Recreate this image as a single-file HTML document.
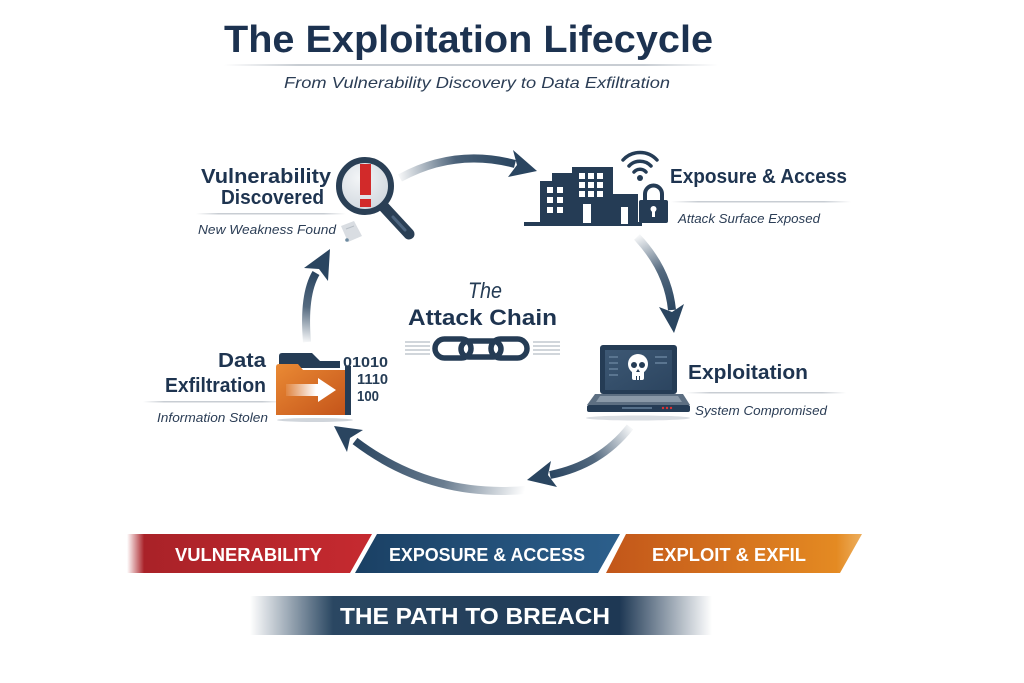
<!DOCTYPE html>
<html><head><meta charset="utf-8"><style>
html,body{margin:0;padding:0;background:#fff;}
svg{display:block;}
text{font-family:"Liberation Sans",sans-serif;}
</style></head><body>
<svg width="1024" height="683" viewBox="0 0 1024 683" xmlns="http://www.w3.org/2000/svg">
<defs>
<linearGradient id="uline" x1="0" x2="1" y1="0" y2="0">
<stop offset="0" stop-color="#c8cdd3" stop-opacity="0"/><stop offset="0.15" stop-color="#c8cdd3"/><stop offset="0.85" stop-color="#c8cdd3"/><stop offset="1" stop-color="#c8cdd3" stop-opacity="0"/>
</linearGradient>
<linearGradient id="a1" gradientUnits="userSpaceOnUse" x1="400" y1="178" x2="515" y2="164"><stop offset="0" stop-color="#2a4560" stop-opacity="0.05"/><stop offset="0.5" stop-color="#2a4560" stop-opacity="0.85"/><stop offset="1" stop-color="#2a4560"/></linearGradient>
<linearGradient id="a2" gradientUnits="userSpaceOnUse" x1="637" y1="237" x2="672" y2="310"><stop offset="0" stop-color="#2a4560" stop-opacity="0.05"/><stop offset="0.5" stop-color="#2a4560" stop-opacity="0.8"/><stop offset="1" stop-color="#2a4560"/></linearGradient>
<linearGradient id="a3" gradientUnits="userSpaceOnUse" x1="630" y1="427" x2="550" y2="475"><stop offset="0" stop-color="#2a4560" stop-opacity="0.05"/><stop offset="0.5" stop-color="#2a4560" stop-opacity="0.8"/><stop offset="1" stop-color="#2a4560"/></linearGradient>
<linearGradient id="a4" gradientUnits="userSpaceOnUse" x1="525" y1="490" x2="355" y2="441"><stop offset="0" stop-color="#2a4560" stop-opacity="0"/><stop offset="0.45" stop-color="#2a4560" stop-opacity="0.7"/><stop offset="1" stop-color="#2a4560"/></linearGradient>
<linearGradient id="a5" gradientUnits="userSpaceOnUse" x1="307" y1="342" x2="316" y2="273"><stop offset="0" stop-color="#2a4560" stop-opacity="0.05"/><stop offset="0.5" stop-color="#2a4560" stop-opacity="0.8"/><stop offset="1" stop-color="#2a4560"/></linearGradient>
<radialGradient id="lens" cx="0.4" cy="0.35" r="0.7"><stop offset="0" stop-color="#f3f5f7"/><stop offset="1" stop-color="#cfd6dd"/></radialGradient>
<linearGradient id="org" x1="0" x2="1" y1="0" y2="1"><stop offset="0" stop-color="#ea8a34"/><stop offset="1" stop-color="#c4541a"/></linearGradient>
<linearGradient id="arw" x1="0" x2="1"><stop offset="0" stop-color="#fff" stop-opacity="0.1"/><stop offset="0.6" stop-color="#fff"/><stop offset="1" stop-color="#fff"/></linearGradient>
<linearGradient id="red" gradientUnits="userSpaceOnUse" x1="127" x2="372" y1="0" y2="0"><stop offset="0" stop-color="#b0262c" stop-opacity="0"/><stop offset="0.07" stop-color="#a92228"/><stop offset="1" stop-color="#c62a30"/></linearGradient>
<linearGradient id="blue" gradientUnits="userSpaceOnUse" x1="355" x2="620" y1="0" y2="0"><stop offset="0" stop-color="#1a4064"/><stop offset="1" stop-color="#2c5f8c"/></linearGradient>
<linearGradient id="orange" gradientUnits="userSpaceOnUse" x1="606" x2="862" y1="0" y2="0"><stop offset="0" stop-color="#c2561a"/><stop offset="0.9" stop-color="#e48a22"/><stop offset="1" stop-color="#e89a35" stop-opacity="0.8"/></linearGradient>
<linearGradient id="path" gradientUnits="userSpaceOnUse" x1="250" x2="712" y1="0" y2="0"><stop offset="0" stop-color="#2a4560" stop-opacity="0"/><stop offset="0.18" stop-color="#2a4762"/><stop offset="0.8" stop-color="#1e3854"/><stop offset="1" stop-color="#1e3854" stop-opacity="0"/></linearGradient>
<linearGradient id="scr" x1="0" x2="1" y1="0" y2="1"><stop offset="0" stop-color="#3d5874"/><stop offset="1" stop-color="#2c4560"/></linearGradient>
</defs>

<!-- Title -->
<text x="224" y="52" font-size="38" font-weight="bold" fill="#1c3250" textLength="489" lengthAdjust="spacingAndGlyphs">The Exploitation Lifecycle</text>
<rect x="224" y="64" width="494" height="2" fill="url(#uline)"/>
<text x="284" y="88" font-size="16" font-style="italic" fill="#2b3d55" textLength="386" lengthAdjust="spacingAndGlyphs">From Vulnerability Discovery to Data Exfiltration</text>

<!-- Arrows -->
<path d="M400,178 Q455,148 515,164" fill="none" stroke="url(#a1)" stroke-width="8"/>
<polygon points="537,171 513,150 517,165 508,177" fill="#2a4560"/>
<path d="M637,237 Q668,270 672,310" fill="none" stroke="url(#a2)" stroke-width="8"/>
<polygon points="674,333 684,304 672,312 659,307" fill="#2a4560"/>
<path d="M630,427 Q600,465 550,475" fill="none" stroke="url(#a3)" stroke-width="8"/>
<polygon points="527,480 551,461 548,475 557,487" fill="#2a4560"/>
<path d="M525,490 Q430,498 355,441" fill="none" stroke="url(#a4)" stroke-width="8"/>
<polygon points="334,426 363,430 350,438 347,452" fill="#2a4560"/>
<path d="M307,342 Q303,295 316,273" fill="none" stroke="url(#a5)" stroke-width="8"/>
<polygon points="330,249 328,281 319,269 304,268" fill="#2a4560"/>

<!-- Vulnerability Discovered -->
<text x="201" y="183" font-size="20" font-weight="bold" fill="#1e3450" textLength="130" lengthAdjust="spacingAndGlyphs">Vulnerability</text>
<text x="221" y="204" font-size="20" font-weight="bold" fill="#1e3450" textLength="103" lengthAdjust="spacingAndGlyphs">Discovered</text>
<rect x="196" y="213" width="150" height="1.5" fill="url(#uline)"/>
<text x="198" y="234" font-size="13" font-style="italic" fill="#2b3d55" textLength="138" lengthAdjust="spacingAndGlyphs">New Weakness Found</text>
<polygon points="341,226 354,221 362,236 348,242" fill="#d9dde2"/>
<line x1="346" y1="229" x2="354" y2="226" stroke="#b8bec6" stroke-width="1"/>
<circle cx="347" cy="240" r="1.8" fill="#6d8aa0"/>
<line x1="384" y1="207" x2="409" y2="234" stroke="#2a3f55" stroke-width="11" stroke-linecap="round"/>
<line x1="393" y1="217" x2="405" y2="230" stroke="#4d6580" stroke-width="3" stroke-linecap="round"/>
<circle cx="365" cy="186" r="26" fill="url(#lens)" stroke="#2a3f55" stroke-width="6"/>
<rect x="360" y="164" width="11" height="31" fill="#d22a2a"/>
<rect x="360" y="199" width="11" height="8" fill="#d22a2a"/>

<!-- Exposure & Access -->
<rect x="524" y="222" width="118" height="4" fill="#253c55"/>
<rect x="540" y="181" width="32" height="44" fill="#253c55"/>
<rect x="552" y="173" width="22" height="10" fill="#253c55"/>
<g fill="#fff">
<rect x="547" y="187" width="6" height="6"/><rect x="557" y="187" width="6" height="6"/>
<rect x="547" y="197" width="6" height="6"/><rect x="557" y="197" width="6" height="6"/>
<rect x="547" y="207" width="6" height="6"/><rect x="557" y="207" width="6" height="6"/>
</g>
<rect x="572" y="167" width="41" height="58" fill="#253c55"/>
<g fill="#fff">
<rect x="579" y="173" width="6" height="6"/><rect x="588" y="173" width="6" height="6"/><rect x="597" y="173" width="6" height="6"/>
<rect x="579" y="182" width="6" height="6"/><rect x="588" y="182" width="6" height="6"/><rect x="597" y="182" width="6" height="6"/>
<rect x="579" y="191" width="6" height="6"/><rect x="588" y="191" width="6" height="6"/><rect x="597" y="191" width="6" height="6"/>
<rect x="583" y="204" width="8" height="19"/>
</g>
<rect x="613" y="194" width="25" height="31" fill="#253c55"/>
<rect x="621" y="207" width="7" height="17" fill="#fff"/>
<path d="M645,202 V194 A8.5,8.5 0 0 1 662,194 V202" fill="none" stroke="#253c55" stroke-width="4"/>
<rect x="639" y="200" width="29" height="23" rx="2" fill="#253c55"/>
<circle cx="653.5" cy="209" r="3" fill="#fff"/><rect x="652" y="210" width="3" height="7" fill="#fff"/>
<g fill="none" stroke="#253c55" stroke-width="3.5" stroke-linecap="round">
<path d="M634,172 A8,8 0 0 1 646,172"/>
<path d="M629,166 A15,15 0 0 1 651,166"/>
<path d="M623,160 A23,23 0 0 1 657,160"/>
</g>
<circle cx="640" cy="178" r="3" fill="#253c55"/>
<text x="670" y="183" font-size="20" font-weight="bold" fill="#1e3450" textLength="177" lengthAdjust="spacingAndGlyphs">Exposure &amp; Access</text>
<rect x="671" y="201" width="180" height="1.5" fill="url(#uline)"/>
<text x="678" y="223" font-size="13" font-style="italic" fill="#2b3d55" textLength="142" lengthAdjust="spacingAndGlyphs">Attack Surface Exposed</text>

<!-- Attack Chain -->
<text x="468" y="298" font-size="22" font-style="italic" fill="#253c55" textLength="34" lengthAdjust="spacingAndGlyphs">The</text>
<text x="408" y="325" font-size="22" font-weight="bold" fill="#1e3450" textLength="149" lengthAdjust="spacingAndGlyphs">Attack Chain</text>
<g stroke="#c2c8cf" stroke-width="1.5">
<line x1="405" y1="342" x2="430" y2="342"/><line x1="405" y1="346" x2="430" y2="346"/><line x1="405" y1="350" x2="430" y2="350"/><line x1="405" y1="354" x2="430" y2="354"/>
<line x1="533" y1="342" x2="560" y2="342"/><line x1="533" y1="346" x2="560" y2="346"/><line x1="533" y1="350" x2="560" y2="350"/><line x1="533" y1="354" x2="560" y2="354"/>
</g>
<g fill="none" stroke="#253c55" stroke-width="5.5">
<rect x="435" y="339" width="36" height="19" rx="9.5"/>
<rect x="491" y="339" width="36" height="19" rx="9.5"/>
<rect x="461" y="341" width="40" height="16" rx="8"/>
</g>

<!-- Exploitation laptop -->
<ellipse cx="638" cy="418" rx="52" ry="2.5" fill="#d9dde2"/>
<rect x="600" y="345" width="77" height="49" rx="3" fill="#253c55"/>
<rect x="605" y="350" width="67" height="40" fill="url(#scr)"/>
<g fill="#5a7590"><rect x="609" y="356" width="9" height="2"/><rect x="609" y="362" width="9" height="2"/><rect x="609" y="368" width="9" height="2"/><rect x="609" y="374" width="9" height="2"/><rect x="655" y="356" width="12" height="2"/><rect x="655" y="362" width="12" height="2"/></g>
<circle cx="638" cy="364" r="10" fill="#fff"/>
<rect x="632" y="369" width="12" height="11" rx="2" fill="#fff"/>
<circle cx="634" cy="365" r="3" fill="#253c55"/><circle cx="642" cy="365" r="3" fill="#253c55"/>
<polygon points="638,369 636,372 640,372" fill="#253c55"/>
<rect x="636" y="376" width="1" height="4" fill="#253c55"/><rect x="639" y="376" width="1" height="4" fill="#253c55"/>
<polygon points="595,394 683,394 690,405 587,405" fill="#5d6f82"/>
<polygon points="600,396 678,396 682,402 596,402" fill="#8a99a8"/>
<rect x="587" y="405" width="103" height="7" rx="2" fill="#253c55"/>
<rect x="622" y="407" width="30" height="2" fill="#56708a"/>
<circle cx="663" cy="408" r="1.2" fill="#d33"/><circle cx="667" cy="408" r="1.2" fill="#d33"/><circle cx="671" cy="408" r="1.2" fill="#d33"/>
<text x="688" y="379" font-size="20" font-weight="bold" fill="#1e3450" textLength="120" lengthAdjust="spacingAndGlyphs">Exploitation</text>
<rect x="686" y="392" width="160" height="1.5" fill="url(#uline)"/>
<text x="695" y="415" font-size="13" font-style="italic" fill="#2b3d55" textLength="132" lengthAdjust="spacingAndGlyphs">System Compromised</text>

<!-- Data Exfiltration -->
<text x="266" y="367" font-size="20" font-weight="bold" fill="#1e3450" text-anchor="end" textLength="48" lengthAdjust="spacingAndGlyphs">Data</text>
<text x="266" y="392" font-size="20" font-weight="bold" fill="#1e3450" text-anchor="end" textLength="101" lengthAdjust="spacingAndGlyphs">Exfiltration</text>
<rect x="143" y="401" width="140" height="1.5" fill="url(#uline)"/>
<text x="157" y="422" font-size="13" font-style="italic" fill="#2b3d55" textLength="111" lengthAdjust="spacingAndGlyphs">Information Stolen</text>
<ellipse cx="315" cy="420" rx="38" ry="2" fill="#d0d5db"/>
<path d="M279,356 Q279,353 282,353 H312 L320,361 H340 V368 H279 Z" fill="#253c55"/>
<path d="M276,367 Q276,364 279,364 H298 L303,370 H346 V415 H276 Z" fill="url(#org)"/>
<rect x="345" y="366" width="6" height="49" fill="#253c55"/>
<polygon points="286,384 318,384 318,378 336,390 318,402 318,396 286,396" fill="url(#arw)"/>
<g font-family="'Liberation Mono',monospace" font-weight="bold" font-size="15" fill="#253c55">
<text x="343" y="367" textLength="45" lengthAdjust="spacingAndGlyphs">01010</text>
<text x="357" y="384" textLength="31" lengthAdjust="spacingAndGlyphs">1110</text>
<text x="357" y="401" textLength="22" lengthAdjust="spacingAndGlyphs">100</text>
</g>

<!-- Bottom banners -->
<polygon points="127,534 372,534 350,573 127,573" fill="url(#red)"/>
<polygon points="377,534 620,534 598,573 355,573" fill="url(#blue)"/>
<polygon points="626,534 862,534 840,573 606,573" fill="url(#orange)"/>
<g font-size="18" font-weight="bold" fill="#fff">
<text x="175" y="561" textLength="147" lengthAdjust="spacingAndGlyphs">VULNERABILITY</text>
<text x="389" y="561" textLength="196" lengthAdjust="spacingAndGlyphs">EXPOSURE &amp; ACCESS</text>
<text x="652" y="561" textLength="154" lengthAdjust="spacingAndGlyphs">EXPLOIT &amp; EXFIL</text>
</g>
<rect x="250" y="596" width="462" height="39" fill="url(#path)"/>
<text x="340" y="624" font-size="23" font-weight="bold" fill="#fff" textLength="270" lengthAdjust="spacingAndGlyphs">THE PATH TO BREACH</text>
</svg>
</body></html>
